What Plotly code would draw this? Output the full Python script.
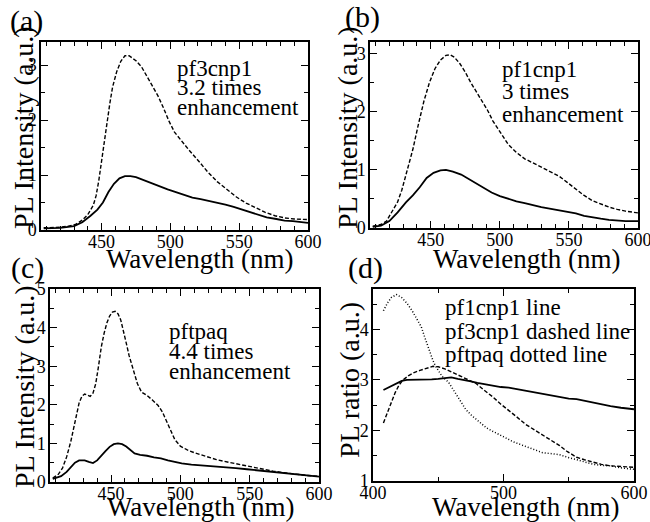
import plotly.graph_objects as go

# ---------------- data ----------------
# (a) pf3cnp1
wl_a_solid = [408, 420, 430, 436, 442, 447, 451, 455, 459, 463, 467, 471, 475, 480, 486, 492, 498, 504, 510, 516,
              522, 528, 534, 540, 546, 552, 558, 564, 570, 577, 583, 589, 595, 600]
pl_a_solid = [0.03, 0.04, 0.07, 0.14, 0.26, 0.37, 0.50, 0.69, 0.84, 0.94, 0.98, 0.98, 0.96, 0.91, 0.86, 0.80, 0.74,
              0.69, 0.64, 0.59, 0.56, 0.53, 0.50, 0.46, 0.42, 0.37, 0.32, 0.27, 0.23, 0.20, 0.17, 0.16, 0.14, 0.13]
wl_a_dash = [408, 420, 426, 431, 436, 440, 444, 446, 448, 450, 452, 454, 456, 458, 461, 464, 467, 470, 475, 479,
             483, 487, 491, 495, 499, 503, 508, 513, 520, 527, 534, 541, 548, 555, 562, 569, 576, 583, 590, 600]
pl_a_dash = [0.04, 0.05, 0.07, 0.10, 0.18, 0.28, 0.45, 0.62, 0.90, 1.25, 1.65, 2.00, 2.30, 2.60, 2.88, 3.07, 3.17,
             3.17, 3.08, 2.97, 2.80, 2.62, 2.44, 2.22, 1.98, 1.78, 1.62, 1.47, 1.27, 1.06, 0.88, 0.74, 0.60, 0.49,
             0.40, 0.32, 0.26, 0.22, 0.20, 0.19]

# (b) pf1cnp1
wl_b_solid = [408, 414, 420, 426, 432, 437, 442, 447, 452, 457, 461, 466, 472, 477, 482, 488, 494, 500, 506, 512,
              518, 524, 530, 537, 543, 549, 555, 561, 567, 573, 579, 585, 591, 600]
pl_b_solid = [0.02, 0.04, 0.12, 0.27, 0.44, 0.56, 0.70, 0.86, 0.95, 0.99, 1.00, 0.97, 0.92, 0.85, 0.77, 0.69, 0.61,
              0.55, 0.50, 0.46, 0.43, 0.39, 0.36, 0.33, 0.305, 0.28, 0.25, 0.21, 0.18, 0.16, 0.14, 0.13, 0.12, 0.12]
wl_b_dash = [408, 414, 418, 422, 426, 429, 433, 437, 441, 445, 449, 453, 457, 461, 464, 467, 471, 475, 479, 483,
             487, 491, 495, 500, 506, 512, 518, 524, 530, 537, 543, 549, 555, 561, 567, 573, 579, 585, 591, 600]
pl_b_dash = [0.03, 0.06, 0.12, 0.28, 0.45, 0.65, 0.98, 1.35, 1.78, 2.18, 2.50, 2.74, 2.89, 2.97, 2.98, 2.94, 2.83,
             2.68, 2.50, 2.34, 2.20, 2.03, 1.84, 1.65, 1.44, 1.30, 1.19, 1.12, 1.05, 0.97, 0.89, 0.78, 0.67, 0.56,
             0.47, 0.41, 0.36, 0.32, 0.29, 0.26]

# (c) pftpaq
wl_c_solid = [408, 414, 418, 421, 424, 427, 431, 434, 437, 440, 443, 446, 449, 452, 455, 458, 461, 464, 467, 471,
              476, 481, 486, 491, 496, 501, 508, 516, 524, 532, 540, 548, 556, 564, 572, 580, 590, 600]
pl_c_solid = [0.08, 0.15, 0.26, 0.39, 0.50, 0.56, 0.56, 0.52, 0.49, 0.56, 0.69, 0.80, 0.91, 0.98, 1.00, 0.98, 0.92,
              0.83, 0.74, 0.70, 0.68, 0.64, 0.61, 0.56, 0.51, 0.48, 0.45, 0.43, 0.41, 0.39, 0.36, 0.33, 0.30, 0.27,
              0.24, 0.21, 0.17, 0.14]
wl_c_dash = [408, 412, 415, 418, 421, 424, 427, 429, 431, 433, 435, 437, 439, 441, 443, 445, 447, 449, 451, 453,
             455, 457, 459, 461, 463, 466, 469, 472, 476, 480, 484, 487, 490, 493, 496, 500, 505, 510, 518, 526,
             535, 543, 551, 559, 567, 575, 583, 591, 600]
pl_c_dash = [0.10, 0.20, 0.36, 0.65, 1.05, 1.55, 2.05, 2.22, 2.28, 2.25, 2.22, 2.30, 2.55, 3.00, 3.50, 3.85, 4.12,
             4.30, 4.40, 4.42, 4.36, 4.20, 3.92, 3.60, 3.28, 2.90, 2.55, 2.33, 2.24, 2.12, 1.98, 1.82, 1.58, 1.30,
             1.10, 0.93, 0.83, 0.76, 0.67, 0.58, 0.51, 0.45, 0.40, 0.34, 0.28, 0.24, 0.20, 0.17, 0.15]

# (d) PL ratios
wl_d_pf1 = [408, 411, 414, 418, 422, 426, 430, 435, 440, 445, 450, 455, 460, 465, 470, 475, 480, 486, 492, 498,
            504, 510, 517, 524, 530, 537, 543, 550, 556, 563, 569, 576, 582, 590, 600]
ratio_pf1 = [2.80, 2.84, 2.88, 2.93, 2.98, 3.00, 3.00, 3.00, 3.01, 3.01, 3.02, 3.03, 3.05, 3.02, 3.00, 2.97, 2.94,
             2.91, 2.88, 2.86, 2.85, 2.82, 2.78, 2.75, 2.72, 2.68, 2.65, 2.63, 2.62, 2.58, 2.55, 2.52, 2.48, 2.45,
             2.42]
wl_d_pf3 = [408, 411, 414, 417, 420, 423, 427, 431, 436, 441, 446, 450, 455, 460, 466, 472, 479, 485, 492, 498,
            505, 511, 517, 524, 530, 537, 543, 549, 556, 562, 569, 575, 582, 590, 600]
ratio_pf3 = [2.15, 2.34, 2.55, 2.75, 2.90, 3.00, 3.08, 3.14, 3.19, 3.23, 3.27, 3.26, 3.22, 3.16, 3.09, 3.01, 2.93,
             2.80, 2.66, 2.52, 2.38, 2.25, 2.12, 2.01, 1.90, 1.80, 1.70, 1.58, 1.47, 1.42, 1.37, 1.33, 1.30, 1.28,
             1.27]
wl_d_tpaq = [408, 411, 414, 418, 422, 426, 430, 434, 437, 440, 443, 446, 448, 453, 458, 463, 467, 471, 475, 479,
             483, 487, 492, 497, 502, 507, 512, 517, 524, 530, 537, 543, 549, 556, 562, 569, 575, 582, 590, 600]
ratio_tpaq = [4.37, 4.52, 4.63, 4.69, 4.63, 4.52, 4.37, 4.20, 4.05, 3.82, 3.59, 3.38, 3.27, 3.07, 2.95, 2.75, 2.58,
              2.42, 2.31, 2.22, 2.13, 2.05, 1.98, 1.92, 1.85, 1.78, 1.73, 1.69, 1.62, 1.56, 1.54, 1.52, 1.47, 1.42,
              1.38, 1.33, 1.31, 1.30, 1.26, 1.23]

panel_labels = ["(a)", "(b)", "(c)", "(d)"]
x_title = "Wavelength (nm)"
y_titles = ["PL Intensity (a.u.)", "PL Intensity (a.u.)", "PL Intensity (a.u.)", "PL ratio (a.u.)"]
notes_a = ["pf3cnp1", "3.2 times", "enhancement"]
notes_b = ["pf1cnp1", "3 times", "enhancement"]
notes_c = ["pftpaq", "4.4 times", "enhancement"]
notes_d = ["pf1cnp1 line", "pf3cnp1 dashed line", "pftpaq dotted line"]

# ---------------- figure ----------------
W, H = 650, 522
FONT = "Liberation Serif"


def px(x, y):
    return x / W, 1 - y / H


fig = go.Figure()

SOLID = dict(color="black", width=1.8)
DASH = dict(color="black", width=1.4, dash="4px,2px")
DOT = dict(color="black", width=1.5, dash="1px,2px")

series = [
    ("x", "y", wl_a_solid, pl_a_solid, SOLID),
    ("x", "y", wl_a_dash, pl_a_dash, DASH),
    ("x2", "y2", wl_b_solid, pl_b_solid, SOLID),
    ("x2", "y2", wl_b_dash, pl_b_dash, DASH),
    ("x3", "y3", wl_c_solid, pl_c_solid, SOLID),
    ("x3", "y3", wl_c_dash, pl_c_dash, DASH),
    ("x4", "y4", wl_d_pf1, ratio_pf1, SOLID),
    ("x4", "y4", wl_d_pf3, ratio_pf3, DASH),
    ("x4", "y4", wl_d_tpaq, ratio_tpaq, DOT),
]
for xa, ya, xs, ys, ln in series:
    fig.add_trace(go.Scatter(x=xs, y=ys, mode="lines", line=ln, xaxis=xa, yaxis=ya,
                             showlegend=False, hoverinfo="skip"))


def axis(domain, rng, dtick, minor, anchor, tick0=0, standoff=0):
    return dict(domain=domain, range=rng, dtick=dtick, tick0=tick0, anchor=anchor, automargin=False,
                tickmode="linear", ticklabeloverflow="allow", ticklabelstandoff=standoff,
                ticks="inside", ticklen=7, tickwidth=1.2, tickcolor="black",
                minor=dict(ticks="inside", ticklen=4, dtick=minor, tick0=tick0, tickmode="linear",
                           tickcolor="black", tickwidth=1, showgrid=False),
                showline=True, linecolor="black", linewidth=1.5, mirror="ticks",
                showgrid=False, zeroline=False,
                tickfont=dict(family=FONT, size=18, color="black"))


def xd(l, r):
    return [l / W, r / W]


def yd(t, b):
    return [1 - b / H, 1 - t / H]


fig.update_layout(
    template="none",
    font=dict(family=FONT, color="black"),
    width=W, height=H, margin=dict(l=0, r=0, t=0, b=0, pad=0),
    paper_bgcolor="white", plot_bgcolor="white", showlegend=False,
    xaxis=axis(xd(41, 308), [406, 600], 50, 10, "y", standoff=-5),
    yaxis=axis(yd(42, 230), [0, 3.42], 1, 0.5, "x", standoff=-1),
    xaxis2=axis(xd(370, 638), [406, 600], 50, 10, "y2", standoff=-5),
    yaxis2=axis(yd(42, 228), [0, 3.2], 1, 0.5, "x2", standoff=-1),
    xaxis3=axis(xd(50, 319), [406, 600], 50, 10, "y3", standoff=-5),
    yaxis3=axis(yd(289, 482), [0, 5], 1, 0.5, "x3", standoff=-1),
    xaxis4=axis(xd(373, 634), [400, 600], 100, 50, "y4", standoff=-5),
    yaxis4=axis(yd(289, 481), [1, 4.8], 1, 0.5, "x4", standoff=-1),
)

ann = []


def add_text(text, x, y, size, xanchor="center", angle=0):
    xp, yp = px(x, y)
    ann.append(dict(text=text, x=xp, y=yp, xref="paper", yref="paper", xanchor=xanchor, yanchor="middle",
                    showarrow=False, textangle=angle, font=dict(family=FONT, size=size, color="black")))


# panel labels
for lab, (x, y) in zip(panel_labels, [(26, 21), (362, 17), (27, 268), (366, 268)]):
    add_text(lab, x, y, 30)
# x titles
for (x, y) in [(200, 259), (527, 259), (201, 507), (526, 507)]:
    add_text(x_title, x, y, 27)
# y titles
for t, (x, y) in zip(y_titles, [(24, 128), (348, 128), (24, 387), (349, 380)]):
    add_text(t, x, y, 28, angle=-90)
# inline notes
for notes, x0, ys in [(notes_a, 175, [68, 88, 108]), (notes_b, 500, [69, 91, 114]),
                      (notes_c, 167, [331, 351, 371]), (notes_d, 443, [307, 331, 354])]:
    for t, y in zip(notes, ys):
        add_text(t, x0, y, 23, xanchor="left")

fig.update_layout(annotations=ann)
fig.write_html("out.html", config={"displayModeBar": False},
               post_script="document.body.style.margin='0px';")
